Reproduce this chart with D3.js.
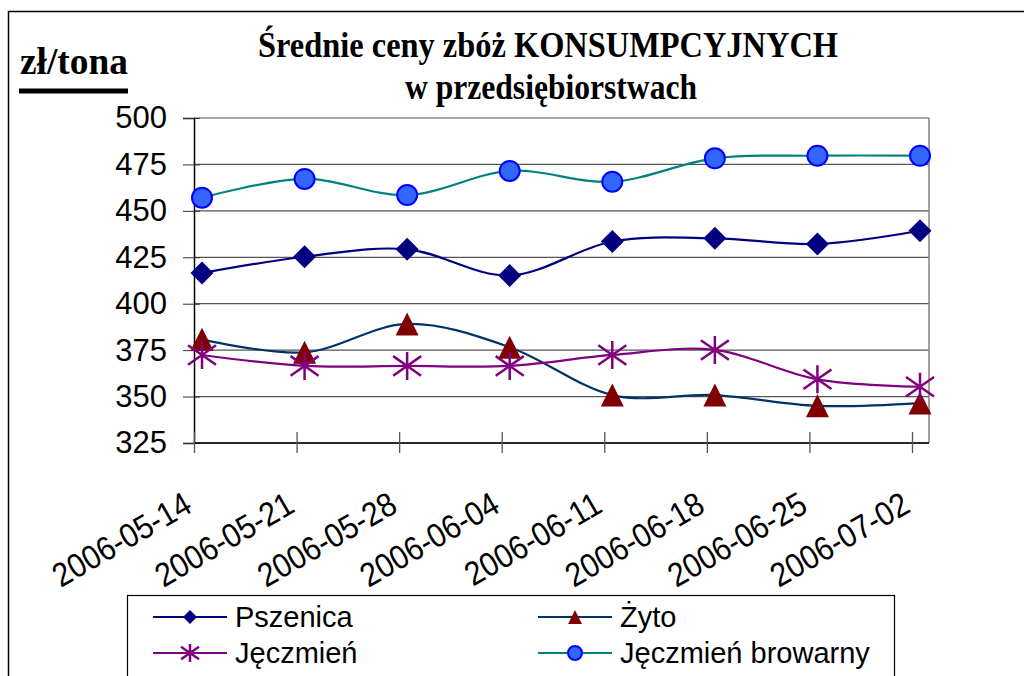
<!DOCTYPE html>
<html>
<head>
<meta charset="utf-8">
<script src="https://cdn.jsdelivr.net/npm/d3@7"></script>
<style>
  body { margin: 0; background: #fff; }
  svg { display: block; }
</style>
</head>
<body>
<div id="chart"></div>
<script>
// data
const dates = ["2006-05-14", "2006-05-21", "2006-05-28", "2006-06-04",
               "2006-06-11", "2006-06-18", "2006-06-25", "2006-07-02"];
const pszenica = [416.5, 425.3, 429.3, 415.2, 433.5, 435.2, 432.2, 439.3];
const zyto = [380.8, 373.8, 389.1, 376.6, 350.8, 350.8, 345.0, 346.5];
const jeczmien = [372.4, 366.5, 366.5, 366.5, 372.4, 375.1, 359.3, 355.3];
const browarny = [457.1, 467.2, 458.5, 471.5, 465.7, 478.3, 479.7, 479.7];
const yTicks = [325, 350, 375, 400, 425, 450, 475, 500];
const seriesNames = ["Pszenica", "Żyto", "Jęczmień", "Jęczmień browarny"];

const width = 1024, height = 676;
const plot = { left: 194, right: 929, top: 118, bottom: 443 };

const svg = d3.select("#chart").append("svg")
    .attr("width", width)
    .attr("height", height);

// outer frame (runs off the right and bottom edges)
svg.append("rect")
    .attr("x", 8.5).attr("y", 11.5)
    .attr("width", 1040).attr("height", 700)
    .attr("fill", "none")
    .attr("stroke", "#000")
    .attr("stroke-width", 1.5);

// scales
const x = d3.scalePoint().domain(dates).range([202, 920]);
const y = d3.scaleLinear().domain([325, 500]).range([plot.bottom, plot.top]);

// gridlines
svg.append("g")
    .selectAll("line")
    .data(yTicks)
    .join("line")
    .attr("x1", plot.left).attr("x2", plot.right)
    .attr("y1", d => y(d)).attr("y2", d => y(d))
    .attr("stroke", "#555")
    .attr("stroke-width", 1.2);

// right border of plot area
svg.append("line")
    .attr("x1", plot.right).attr("x2", plot.right)
    .attr("y1", plot.top).attr("y2", plot.bottom)
    .attr("stroke", "#808080")
    .attr("stroke-width", 1.5);

// y axis
const yAxis = svg.append("g")
    .attr("transform", `translate(${plot.left},0)`)
    .call(d3.axisLeft(y).tickValues(yTicks).tickSize(11).tickPadding(16));
yAxis.select(".domain").attr("stroke", "#000").attr("stroke-width", 1.5);
yAxis.selectAll(".tick line").attr("x1", 6).attr("stroke", "#333");
yAxis.selectAll(".tick text")
    .style("font-family", "'Liberation Sans', Arial, sans-serif")
    .style("font-size", "31px")
    .attr("fill", "#000");

// x axis (Excel draws the tick marks a little left of the points)
const xAxis = svg.append("g")
    .attr("transform", `translate(0,${plot.bottom})`)
    .call(d3.axisBottom(x).tickSize(10).tickFormat(""));
xAxis.select(".domain").attr("d", `M${plot.left},0H${plot.right}`)
    .attr("stroke", "#000").attr("stroke-width", 1.5);
xAxis.selectAll(".tick line")
    .attr("x1", -8).attr("x2", -8)
    .attr("y1", -11).attr("y2", 10)
    .attr("stroke", "#555").attr("stroke-width", 1.3);

// rotated date labels, glyphs a bit narrow and tall like the original
svg.append("g")
    .selectAll("text")
    .data(dates)
    .join("text")
    .attr("transform", d => `translate(${x(d) - 8},${plot.bottom + 68}) rotate(-30) scale(0.97,1.08)`)
    .attr("text-anchor", "end")
    .style("font-family", "'Liberation Sans', Arial, sans-serif")
    .style("font-size", "31px")
    .text(d => d);

// marker shapes
const markers = {
    diamond: (g, s, c) => g.append("path")
        .attr("d", `M0,${-s}L${s},0L0,${s}L${-s},0Z`)
        .attr("fill", c.fill),
    triangle: (g, s, c) => g.append("path")
        .attr("d", `M0,${-s}L${s},${s}L${-s},${s}Z`)
        .attr("fill", c.fill),
    star: (g, s, c) => g.append("path")
        .attr("d", `M0,${-s}V${s}M${-s},${-s * 0.7}L${s},${s * 0.7}M${-s},${s * 0.7}L${s},${-s * 0.7}`)
        .attr("fill", "none")
        .attr("stroke", c.fill)
        .attr("stroke-width", 2.5),
    circle: (g, s, c) => g.append("circle")
        .attr("r", s)
        .attr("fill", c.fill)
        .attr("stroke", c.stroke)
        .attr("stroke-width", 2)
};

const series = [
    { name: seriesNames[0], values: pszenica, line: "#000080", fill: "#000080", shape: "diamond", size: 11.5 },
    { name: seriesNames[1], values: zyto, line: "#003366", fill: "#800000", shape: "triangle", size: 11.5 },
    { name: seriesNames[2], values: jeczmien, line: "#800080", fill: "#800080", shape: "star", size: 14 },
    { name: seriesNames[3], values: browarny, line: "#008080", fill: "#3366FF", stroke: "#0000FF", shape: "circle", size: 10 }
];

const lineGen = d3.line()
    .x((d, i) => x(dates[i]))
    .y(d => y(d))
    .curve(d3.curveCatmullRom.alpha(0));

// lines first, then markers on top
series.forEach(s => {
    svg.append("path")
        .datum(s.values)
        .attr("d", lineGen)
        .attr("fill", "none")
        .attr("stroke", s.line)
        .attr("stroke-width", 2.2);
});

series.forEach(s => {
    s.values.forEach((v, i) => {
        const g = svg.append("g")
            .attr("transform", `translate(${x(dates[i])},${y(v)})`);
        markers[s.shape](g, s.size, s);
    });
});

// titles (condensed bold serif)
svg.append("text")
    .attr("x", 548).attr("y", 57)
    .attr("text-anchor", "middle")
    .attr("textLength", 580)
    .attr("lengthAdjust", "spacingAndGlyphs")
    .style("font-family", "'Liberation Serif', 'Times New Roman', serif")
    .style("font-weight", "bold")
    .style("font-size", "36px")
    .text("Średnie ceny zbóż KONSUMPCYJNYCH");

svg.append("text")
    .attr("x", 551).attr("y", 99)
    .attr("text-anchor", "middle")
    .attr("textLength", 292)
    .attr("lengthAdjust", "spacingAndGlyphs")
    .style("font-family", "'Liberation Serif', 'Times New Roman', serif")
    .style("font-weight", "bold")
    .style("font-size", "36px")
    .text("w przedsiębiorstwach");

// unit label with thick underline
svg.append("text")
    .attr("x", 20).attr("y", 74)
    .attr("textLength", 108)
    .attr("lengthAdjust", "spacingAndGlyphs")
    .style("font-family", "'Liberation Serif', 'Times New Roman', serif")
    .style("font-weight", "bold")
    .style("font-size", "37px")
    .text("zł/tona");

svg.append("line")
    .attr("x1", 19).attr("x2", 128)
    .attr("y1", 91).attr("y2", 91)
    .attr("stroke", "#000")
    .attr("stroke-width", 5);

// legend
const legend = svg.append("g");
legend.append("rect")
    .attr("x", 127.5).attr("y", 595.5)
    .attr("width", 767).attr("height", 120)
    .attr("fill", "#fff")
    .attr("stroke", "#000")
    .attr("stroke-width", 1.2);

const legendPos = [[153, 617], [538, 617], [153, 653], [538, 653]];
series.forEach((s, i) => {
    const [lx, ly] = legendPos[i];
    const item = legend.append("g").attr("transform", `translate(${lx},${ly})`);
    item.append("line")
        .attr("x1", 0).attr("x2", 74)
        .attr("stroke", s.line)
        .attr("stroke-width", 2.2);
    const m = item.append("g").attr("transform", "translate(37,0)");
    markers[s.shape](m, s.shape === "star" ? 9 : 7, s);
    item.append("text")
        .attr("x", 82).attr("y", 0)
        .attr("dy", "0.36em")
        .style("font-family", "'Liberation Sans', Arial, sans-serif")
        .style("font-size", "29px")
        .text(s.name);
});
</script>
</body>
</html>
